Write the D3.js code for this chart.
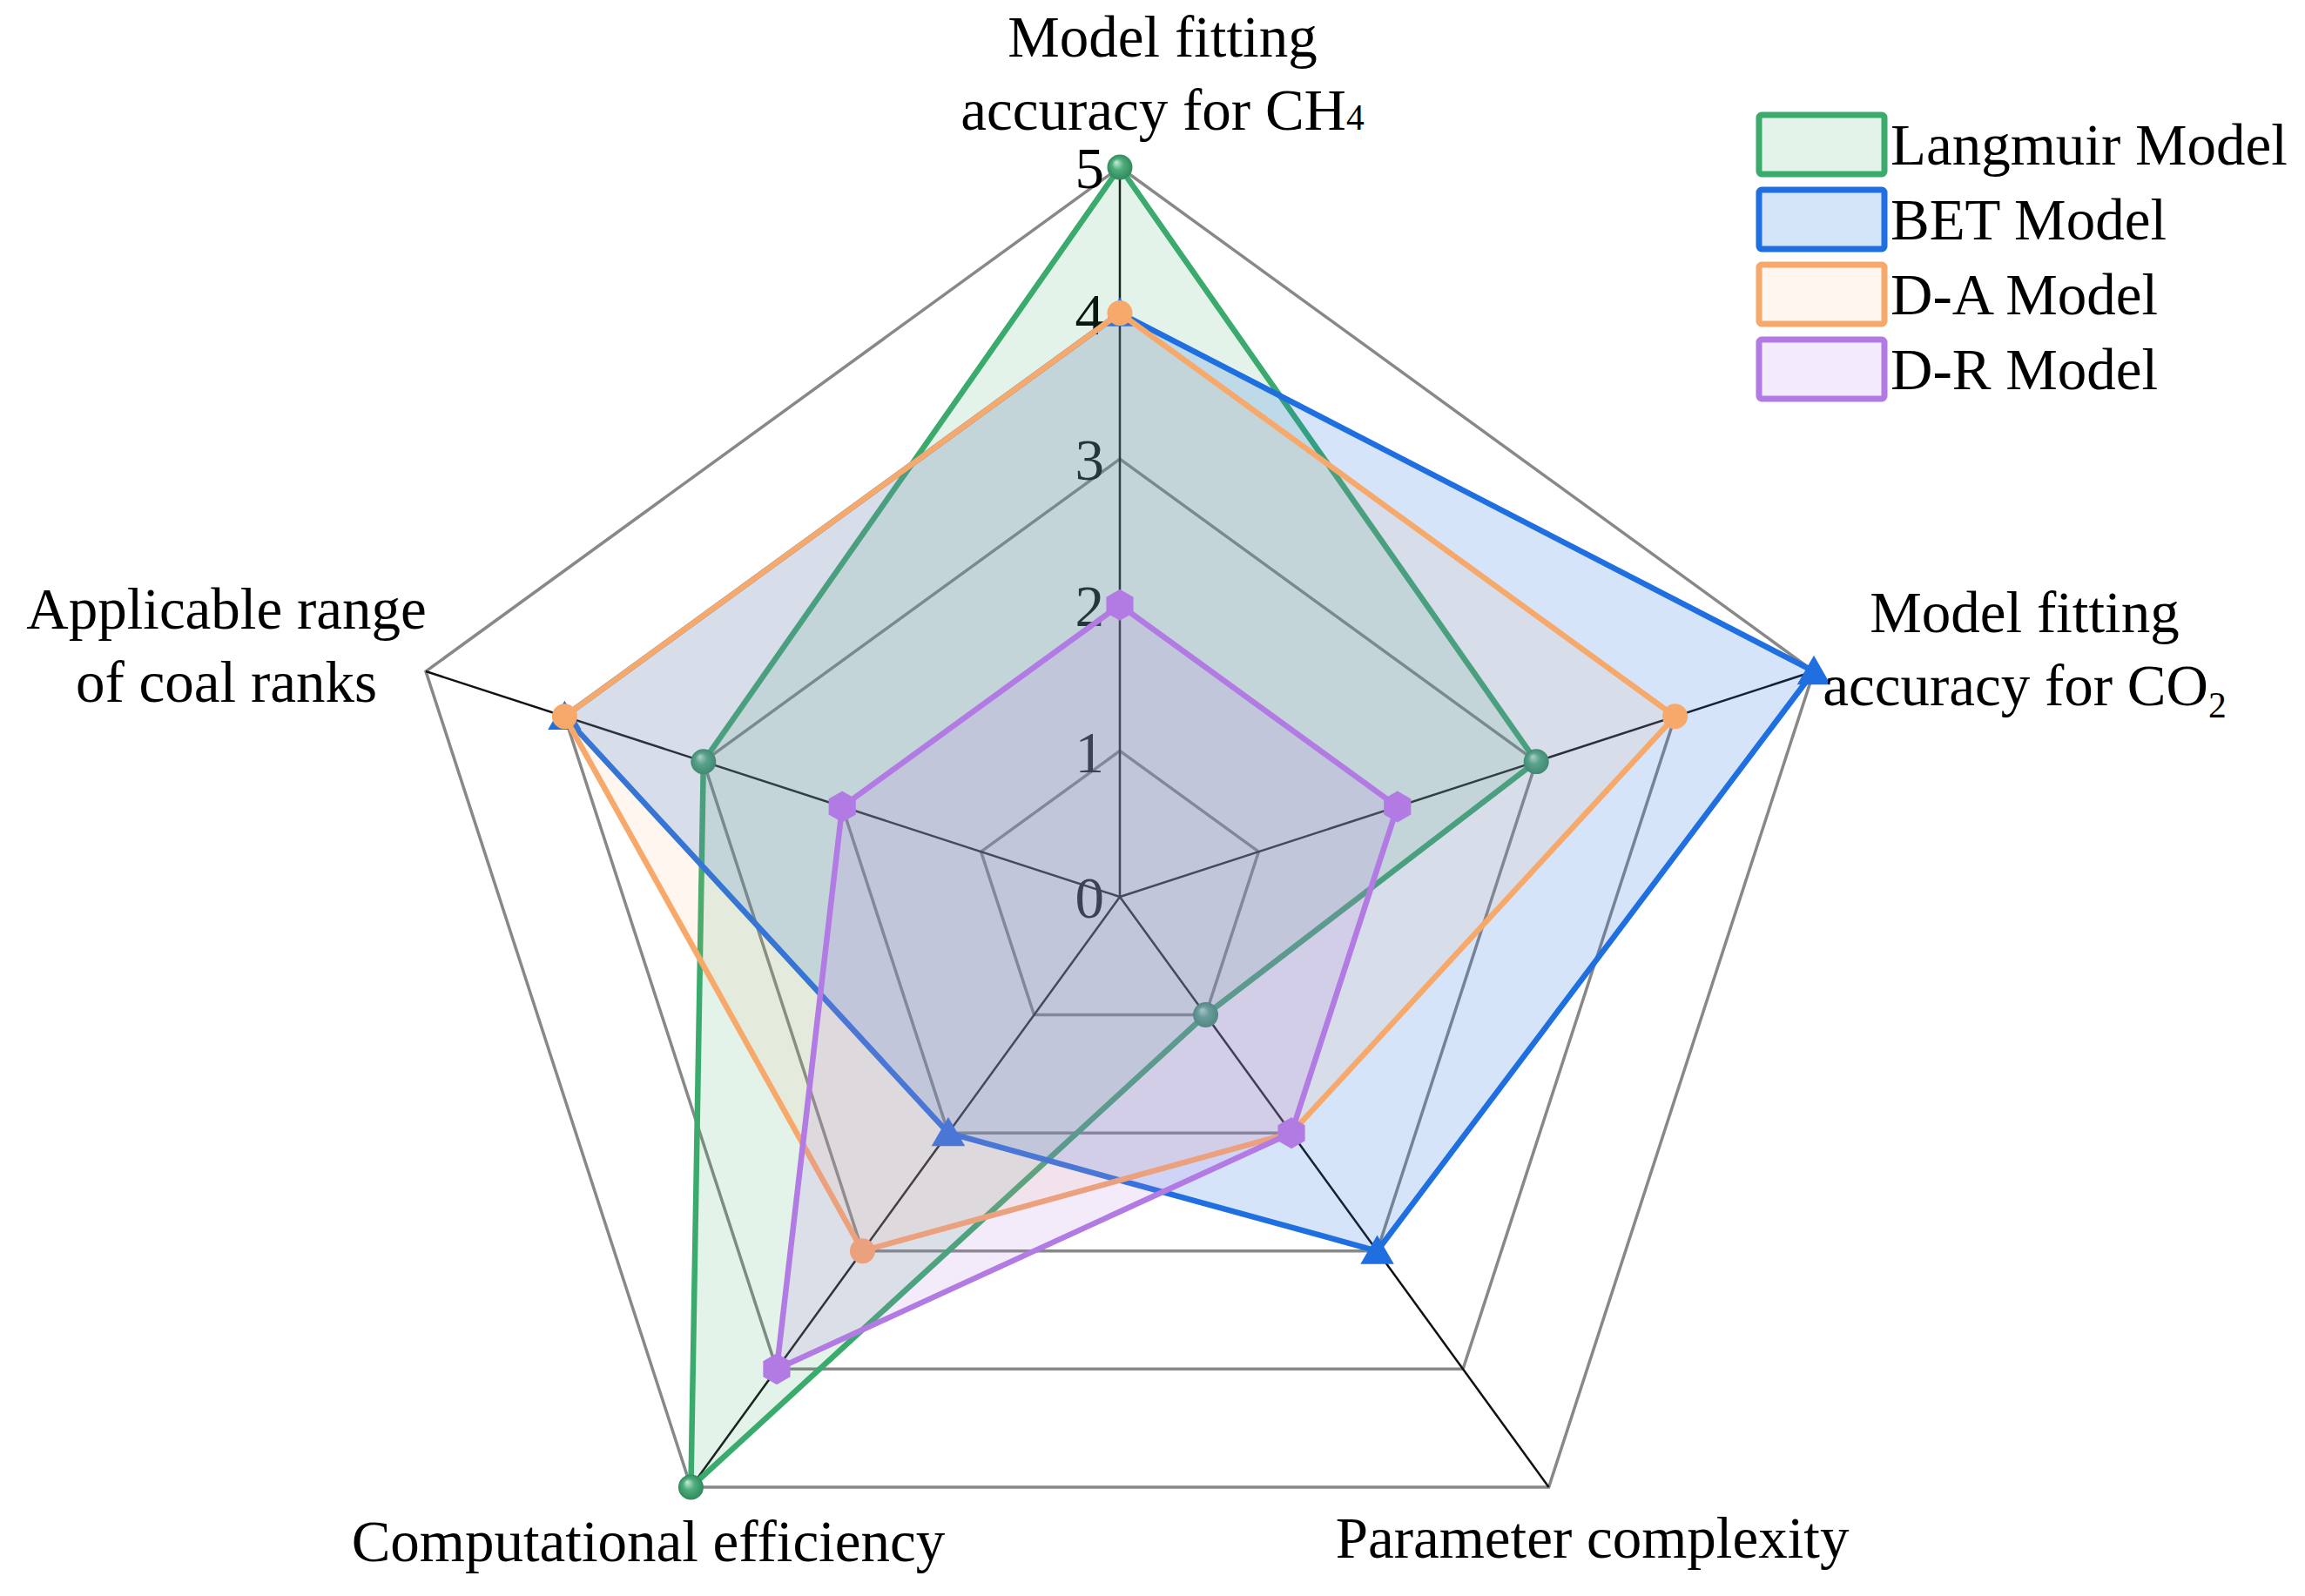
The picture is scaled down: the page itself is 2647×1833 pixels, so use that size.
<!DOCTYPE html>
<html>
<head>
<meta charset="utf-8">
<script src="https://cdn.jsdelivr.net/npm/d3@7"></script>
<style>
  body { margin: 0; background: #fff; }
  text { font-family: "Liberation Serif", "Times New Roman", serif; fill: #000; }
</style>
</head>
<body>
<div id="chart"></div>
<script>
// axis order: clockwise from the top
var axes = ["CH4 fitting", "CO2 fitting", "Parameter complexity", "Computational efficiency", "Applicable range"],
    axisLabels = [
      ["Model fitting", "accuracy for CH^4"],
      ["Model fitting", "accuracy for CO_2"],
      ["Parameter complexity"],
      ["Computational efficiency"],
      ["Applicable range", "of coal ranks"]
    ],
    ticks = [0, 1, 2, 3, 4, 5],
    seriesNames = ["Langmuir Model", "BET Model", "D-A Model", "D-R Model"],
    langmuir = [5, 3, 1, 5, 3],
    bet      = [4, 5, 3, 2, 4],
    da       = [4, 4, 2, 3, 4],
    dr       = [2, 2, 2, 4, 2];

var seriesValues = [langmuir, bet, da, dr];

var w = 2647,
    h = 1833,
    cx = 1286,
    cy = 1030,
    radius = 838,
    fontSize = 67,
    colors = ['#3aab6c', '#1f6fe0', '#f6a96b', '#b27ae3'],
    fillOpacity = [0.14, 0.19, 0.11, 0.16],
    markers = ['sphere', 'triangle', 'circle', 'hexagon'],
    // label offsets from each outer vertex: [dx, first baseline dy]
    labelOffsets = [[49, -127], [242, -45], [50, 81], [-49, 85], [-229, -49]],
    lineHeight = 84;

var r = d3.scaleLinear().domain([0, 5]).range([0, radius]);
var angle = d3.scaleLinear().domain([0, axes.length]).range([-Math.PI / 2, 1.5 * Math.PI]);

function pt(i, v) {
  var a = angle(i);
  return [cx + r(v) * Math.cos(a), cy + r(v) * Math.sin(a)];
}

var svg = d3.select('#chart').append('svg')
    .attr('width', w)
    .attr('height', h);

var defs = svg.append('defs');
var grad = defs.append('radialGradient')
    .attr('id', 'sphere')
    .attr('cx', '50%').attr('cy', '50%').attr('r', '50%')
    .attr('fx', '35%').attr('fy', '30%');
grad.append('stop').attr('offset', '0%').attr('stop-color', '#c8ecd8');
grad.append('stop').attr('offset', '45%').attr('stop-color', '#4fae7c');
grad.append('stop').attr('offset', '100%').attr('stop-color', '#2f8a5c');

var line = d3.line().curve(d3.curveLinearClosed);

// grid pentagons
svg.append('g').selectAll('path')
    .data(ticks.slice(1))
  .enter().append('path')
    .attr('d', function(t){ return line(axes.map(function(a, i){ return pt(i, t); })); })
    .attr('fill', 'none')
    .attr('stroke', '#888')
    .attr('stroke-width', 3.5);

// spokes
svg.append('g').selectAll('line')
    .data(axes)
  .enter().append('line')
    .attr('x1', cx).attr('y1', cy)
    .attr('x2', function(d, i){ return pt(i, 5)[0]; })
    .attr('y2', function(d, i){ return pt(i, 5)[1]; })
    .attr('stroke', '#111')
    .attr('stroke-width', 2.5);

// tick labels on the top axis
svg.append('g').selectAll('text')
    .data(ticks)
  .enter().append('text')
    .attr('x', cx - 18)
    .attr('y', function(t){ return pt(0, t)[1]; })
    .attr('dy', '0.36em')
    .attr('text-anchor', 'end')
    .attr('font-size', fontSize)
    .text(function(t){ return t; });

// hexagon path, pointy top
function hexagon(s) {
  var p = [];
  for (var k = 0; k < 6; k++) {
    var a = Math.PI / 3 * k - Math.PI / 2;
    p.push([s * Math.cos(a), s * Math.sin(a)]);
  }
  return 'M' + p.join('L') + 'Z';
}

function markerPath(type) {
  if (type === 'triangle') return d3.symbol().type(d3.symbolTriangle).size(640)();
  if (type === 'hexagon') return hexagon(18);
  return d3.symbol().type(d3.symbolCircle).size(660)();
}

// series, each fill drawn over the previous lines
seriesValues.forEach(function(vals, s) {
  var g = svg.append('g');
  var pts = vals.map(function(v, i){ return pt(i, v); });
  g.append('path')
      .attr('d', line(pts))
      .attr('fill', colors[s])
      .attr('fill-opacity', fillOpacity[s])
      .attr('stroke', colors[s])
      .attr('stroke-width', 6.5)
      .attr('stroke-linejoin', 'miter');
  g.selectAll('path.m')
      .data(pts)
    .enter().append('path')
      .attr('class', 'm')
      .attr('transform', function(d){ return 'translate(' + d[0] + ',' + (d[1] + (markers[s] === 'triangle' ? 4 : 0)) + ')'; })
      .attr('d', markerPath(markers[s]))
      .attr('fill', markers[s] === 'sphere' ? 'url(#sphere)' : colors[s]);
});

// axis labels
axisLabels.forEach(function(lines, i) {
  var p = pt(i, 5);
  var t = svg.append('text')
      .attr('text-anchor', 'middle')
      .attr('font-size', fontSize);
  lines.forEach(function(str, k) {
    var x = p[0] + labelOffsets[i][0],
        y = p[1] + labelOffsets[i][1] + k * lineHeight;
    var m = str.match(/^(.*)([\^_])(.)$/);
    t.append('tspan').attr('x', x).attr('y', y).text(m ? m[1] : str);
    if (m) {
      t.append('tspan')
          .attr('font-size', fontSize * 0.62)
          .attr('dy', m[2] === '_' ? 14 : 0)
          .text(m[3]);
    }
  });
});

// legend
var legend = svg.append('g').attr('transform', 'translate(2020,132)');
var items = legend.selectAll('g')
    .data(seriesNames)
  .enter().append('g')
    .attr('transform', function(d, i){ return 'translate(0,' + (i * 86) + ')'; });
items.append('rect')
    .attr('width', 144)
    .attr('height', 68)
    .attr('rx', 3)
    .attr('fill', function(d, i){ return d3.interpolateRgb('#fff', colors[i])(fillOpacity[i]); })
    .attr('stroke', function(d, i){ return colors[i]; })
    .attr('stroke-width', 7);
items.append('text')
    .attr('x', 151)
    .attr('y', 57)
    .attr('font-size', fontSize)
    .text(function(d){ return d; });
</script>
</body>
</html>
